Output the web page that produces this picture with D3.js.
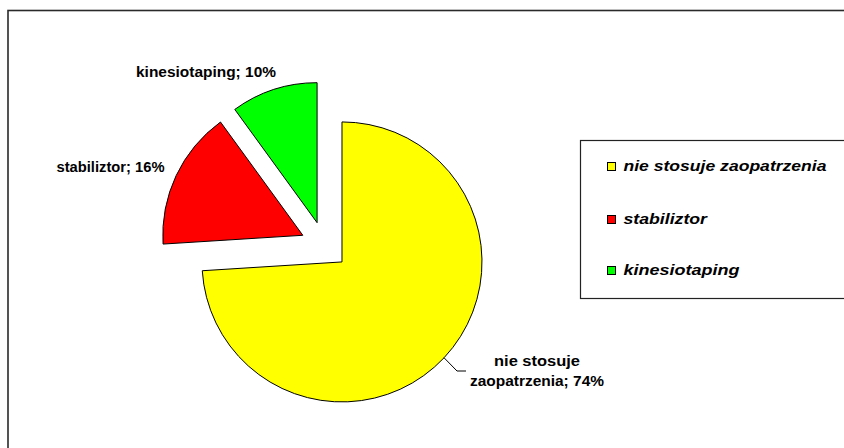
<!DOCTYPE html>
<html>
<head>
<meta charset="utf-8">
<script src="https://cdn.jsdelivr.net/npm/d3@7"></script>
<style>
  html, body { margin: 0; padding: 0; background: #fff; }
  svg { display: block; }
  text { font-family: Arial, "Liberation Sans", sans-serif; }
</style>
</head>
<body>
<svg id="chart" width="844" height="448"></svg>
<script>
// ---- data ----
const categories = ["nie stosuje zaopatrzenia", "stabiliztor", "kinesiotaping"];
const values = [74, 16, 10];
const colors = ["#FFFF00", "#FF0000", "#00FF00"];
const dataLabels = [["nie stosuje", "zaopatrzenia; 74%"], ["stabiliztor; 16%"], ["kinesiotaping; 10%"]];

// ---- layout ----
const W = 844, H = 448;
const cx = 324.5, cy = 245.5, R = 140, explode = 24;
const labelLayout = [
  { x: 537, y: 366, lh: 19.5, widths: [86, 134] },
  { x: 110.5, y: 171.5, lh: 0, widths: [108] },
  { x: 206, y: 76.5, lh: 0, widths: [140] }
];
const legendLayout = { x: 580, y: 140, w: 300, h: 158, sq: 8, sqX: 607.5, textX: 623.5,
  rowsY: [171, 224, 275], widths: [203, 83.5, 116] };

const svg = d3.select("#chart");

// outer chart border
svg.append("rect").attr("x", 8).attr("y", 10.5).attr("width", 900).attr("height", 500)
  .attr("fill", "none").attr("stroke", "#2a2a2a").attr("stroke-width", 1.6);

const pie = d3.pie().sort(null).value(d => d).startAngle(0).endAngle(2 * Math.PI);
const arcs = pie(values);
const arc = d3.arc().innerRadius(0).outerRadius(R);

function offset(a) {
  const m = (a.startAngle + a.endAngle) / 2;
  return [explode * Math.sin(m), -explode * Math.cos(m)];
}

const g = svg.append("g").attr("transform", `translate(${cx},${cy})`);
g.selectAll("path.slice").data(arcs).enter().append("path")
  .attr("class", "slice")
  .attr("transform", d => { const o = offset(d); return `translate(${o[0]},${o[1]})`; })
  .attr("d", arc)
  .attr("fill", (d, i) => colors[i])
  .attr("stroke", "#000").attr("stroke-width", 1).attr("stroke-linejoin", "miter");

// leader line for the big slice
{
  const a = arcs[0];
  const o = offset(a);
  const m = (a.startAngle + a.endAngle) / 2;
  const sx = cx + o[0] + R * Math.sin(m), sy = cy + o[1] - R * Math.cos(m);
  const lx = labelLayout[0].x - 71, ly = labelLayout[0].y + 5;
  svg.append("path")
    .attr("d", `M${sx},${sy} L${lx - 9},${ly} L${lx},${ly}`)
    .attr("fill", "none").attr("stroke", "#000").attr("stroke-width", 1);
}

// data labels
dataLabels.forEach((lines, i) => {
  const L = labelLayout[i];
  lines.forEach((t, j) => {
    svg.append("text")
      .attr("x", L.x).attr("y", L.y + j * L.lh)
      .attr("text-anchor", "middle")
      .attr("font-size", 14).attr("font-weight", "bold").attr("fill", "#000")
      .attr("textLength", L.widths[j]).attr("lengthAdjust", "spacingAndGlyphs")
      .text(t);
  });
});

// legend
const lg = legendLayout;
svg.append("rect").attr("x", lg.x + 0.5).attr("y", lg.y + 0.5).attr("width", lg.w).attr("height", lg.h)
  .attr("fill", "#fff").attr("stroke", "#222").attr("stroke-width", 1.2);
categories.forEach((c, i) => {
  const y = lg.rowsY[i];
  svg.append("rect").attr("x", lg.sqX).attr("y", y - lg.sq - 0.5).attr("width", lg.sq).attr("height", lg.sq)
    .attr("fill", colors[i]).attr("stroke", "#000").attr("stroke-width", 1);
  svg.append("text").attr("x", lg.textX).attr("y", y)
    .attr("font-size", 15.5).attr("font-weight", "bold").attr("font-style", "italic").attr("fill", "#000")
    .attr("textLength", lg.widths[i]).attr("lengthAdjust", "spacingAndGlyphs")
    .text(c);
});
</script>
</body>
</html>
